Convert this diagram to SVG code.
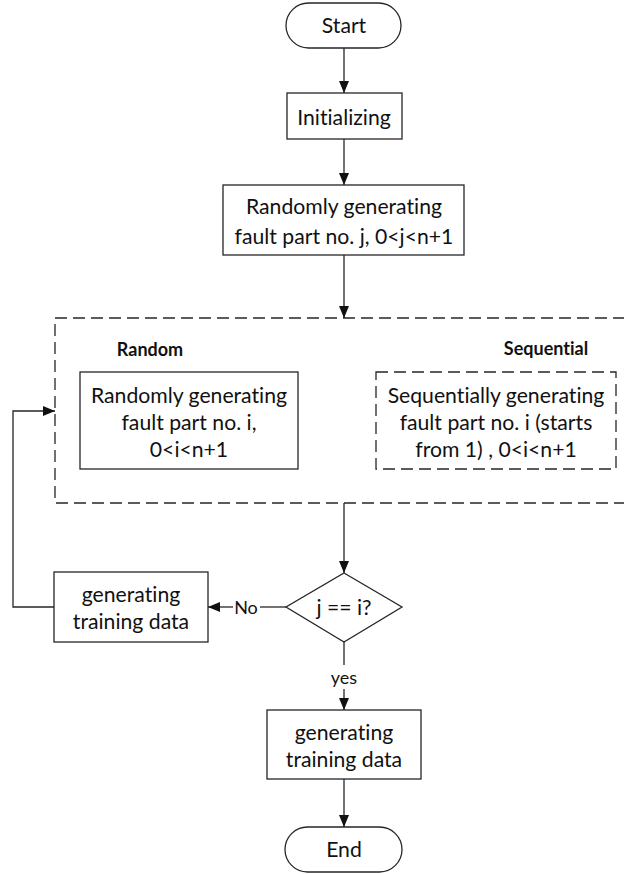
<svg xmlns="http://www.w3.org/2000/svg" width="624" height="874" viewBox="0 0 624 874">
<defs>
<style>
text{font-variant-ligatures:none;font-feature-settings:"liga" 0,"clig" 0}
.shape{fill:#fff;stroke:#262626;stroke-width:1.3}
.dash{fill:none;stroke:#262626;stroke-width:1.3;stroke-dasharray:12 6}
.conn{fill:none;stroke:#262626;stroke-width:1.3}
.t{font-family:Lato,"Liberation Sans",sans-serif;font-size:21.2px;fill:#111;text-anchor:middle;dominant-baseline:central}
.b{font-family:Lato,"Liberation Sans",sans-serif;font-size:18px;font-weight:bold;fill:#111;text-anchor:middle;dominant-baseline:central}
.l{font-family:Lato,"Liberation Sans",sans-serif;font-size:18px;fill:#111;text-anchor:middle;dominant-baseline:central}
</style>
<marker id="arr" markerWidth="12" markerHeight="10" refX="12" refY="5" orient="auto" markerUnits="userSpaceOnUse">
<path d="M0,0 L12,5 L0,10 Z" fill="#111"/>
</marker>
</defs>
<rect width="624" height="874" fill="#fff"/>
<g id="group-box">
<rect class="dash" x="55" y="318" width="580" height="185"/>
<text class="b" x="150" y="349">Random</text>
<text class="b" x="546" y="348">Sequential</text>
</g>
<g id="connectors">
<line class="conn" x1="344" y1="48" x2="344" y2="93" marker-end="url(#arr)"/>
<line class="conn" x1="344" y1="139" x2="344" y2="185" marker-end="url(#arr)"/>
<line class="conn" x1="344" y1="255" x2="344" y2="318" marker-end="url(#arr)"/>
<line class="conn" x1="344" y1="503" x2="344" y2="573" marker-end="url(#arr)"/>
<line class="conn" x1="286" y1="607" x2="260" y2="607"/>
<line class="conn" x1="233" y1="607" x2="208" y2="607" marker-end="url(#arr)"/>
<text class="l" x="246" y="607">No</text>
<polyline class="conn" points="54,607 13,607 13,411 55,411" marker-end="url(#arr)"/>
<line class="conn" x1="344" y1="642" x2="344" y2="665"/>
<text class="l" x="344" y="677">yes</text>
<line class="conn" x1="344" y1="689" x2="344" y2="710" marker-end="url(#arr)"/>
<line class="conn" x1="344" y1="779" x2="344" y2="827" marker-end="url(#arr)"/>
</g>
<g id="start">
<rect class="shape" x="286" y="3" width="115" height="45" rx="22.5"/>
<text class="t" x="344" y="25">Start</text>
</g>
<g id="init">
<rect class="shape" x="287" y="93" width="115" height="46"/>
<text class="t" x="344" y="117">Initializing</text>
</g>
<g id="gen-j">
<rect class="shape" x="223" y="185" width="241" height="70"/>
<text class="t" x="344" y="206">Randomly generating</text>
<text class="t" x="344" y="236">fault part no. j, 0&lt;j&lt;n+1</text>
</g>
<g id="random-i">
<rect class="shape" x="80" y="372" width="218" height="97"/>
<text class="t" x="189" y="395">Randomly generating</text>
<text class="t" x="189" y="422">fault part no. i,</text>
<text class="t" x="189" y="449">0&lt;i&lt;n+1</text>
</g>
<g id="sequential-i">
<rect class="dash" x="376" y="372" width="240" height="97"/>
<text class="t" x="496" y="395">Sequentially generating</text>
<text class="t" x="496" y="422">fault part no. i (starts</text>
<text class="t" x="496" y="449">from 1) , 0&lt;i&lt;n+1</text>
</g>
<g id="decision">
<polygon class="shape" points="344,573 402,607 344,642 286,607"/>
<text class="t" x="344" y="607">j == i?</text>
</g>
<g id="gen-data-no">
<rect class="shape" x="54" y="572" width="154" height="70"/>
<text class="t" x="131" y="594">generating</text>
<text class="t" x="131" y="621">training data</text>
</g>
<g id="gen-data-yes">
<rect class="shape" x="267" y="710" width="154" height="69"/>
<text class="t" x="344" y="732">generating</text>
<text class="t" x="344" y="759">training data</text>
</g>
<g id="end">
<rect class="shape" x="285" y="827" width="117" height="45" rx="22.5"/>
<text class="t" x="344" y="849">End</text>
</g>
</svg>
